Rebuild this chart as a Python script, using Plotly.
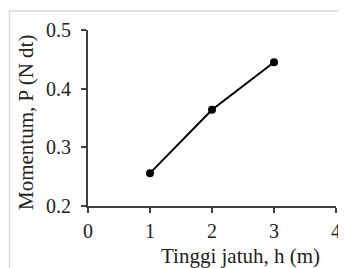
import plotly.graph_objects as go

heights = [1, 2, 3]
momentum = [0.256, 0.364, 0.445]
x_ticks = [0, 1, 2, 3, 4]
y_ticks = [0.2, 0.3, 0.4, 0.5]
x_title = "Tinggi jatuh, h (m)"
y_title = "Momentum, P (N dt)"

FONT = "Liberation Serif"
# the page body adds an 8px margin, so the figure is 8px smaller and shifted
OFF = 8
W, H = 346 - OFF, 268 - OFF
L, T = 88 - OFF, 30 - OFF
R = W - (336 - OFF)
B = H - (206 - OFF)
pw, ph = W - L - R, H - T - B

def px_x(x):
    return (x - OFF - L) / pw

def px_y(y):
    return (T + ph - (y - OFF)) / ph

fig = go.Figure(go.Scatter(
    x=heights, y=momentum, mode="lines+markers",
    line=dict(color="black", width=2),
    marker=dict(color="black", size=8),
    showlegend=False,
    cliponaxis=False,
))

fig.update_layout(
    width=W, height=H,
    margin=dict(l=L, r=R, t=T, b=B, autoexpand=False),
    plot_bgcolor="white", paper_bgcolor="white",
    font=dict(family=FONT, size=20, color="black"),
)
axis_common = dict(
    showgrid=False, zeroline=False, showline=True, linecolor="#404040", linewidth=2,
    ticks="outside", ticklen=5, tickcolor="#404040", tickwidth=1.5,
    tickfont=dict(family=FONT, size=20, color="#222"),
    ticklabeloverflow="allow",
)
fig.update_xaxes(range=[0, 4], tickvals=x_ticks,
                 ticktext=[str(v) for v in x_ticks],
                 ticklabelstandoff=1, **axis_common)
fig.update_yaxes(range=[0.2, 0.5], tickvals=y_ticks,
                 ticktext=[f"{v:.1f}" for v in y_ticks],
                 ticklabelstandoff=6, **axis_common)

fig.add_annotation(
    text=x_title, xref="paper", yref="paper",
    x=px_x(240), y=px_y(256), showarrow=False,
    font=dict(family=FONT, size=21, color="#222"),
    xanchor="center", yanchor="middle",
)
fig.add_annotation(
    text=y_title, xref="paper", yref="paper", textangle=-90,
    x=px_x(26), y=px_y(123), showarrow=False,
    font=dict(family=FONT, size=21, color="#222"),
    xanchor="center", yanchor="middle",
)

# light frame: only its left and top edges fall inside the picture
x0, x1 = px_x(9.5), px_x(345)
y0, y1 = px_y(290), px_y(11)
fig.add_shape(
    type="path", xref="paper", yref="paper",
    path=f"M {x0} {y0} L {x0} {y1} L {x1} {y1}",
    line=dict(color="#d9d9d9", width=1.5), layer="below",
)

fig.write_html(
    "out.html",
    post_script="document.documentElement.style.overflow='hidden';document.body.style.overflow='hidden';",
)
